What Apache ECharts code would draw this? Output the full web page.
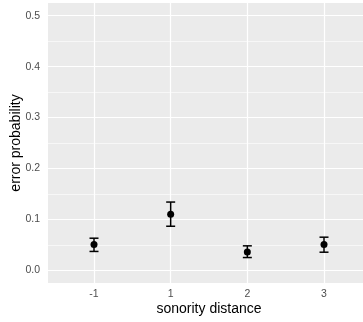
<!DOCTYPE html>
<html>
<head>
<meta charset="utf-8">
<script src="https://cdn.jsdelivr.net/npm/echarts@6/dist/echarts.min.js"></script>
<style>
  html, body { margin: 0; padding: 0; background: #fff; }
  #chart { width: 363px; height: 322px; }
</style>
</head>
<body>
<div id="chart"></div>
<script>
// sonority distance categories and their error probability estimates
const categories = ["-1", "1", "2", "3"];
const means = [0.0505, 0.110, 0.036, 0.0505];
const lower = [0.037, 0.0865, 0.025, 0.0355];
const upper = [0.063, 0.134, 0.048, 0.065];
const yTicks = [0, 0.1, 0.2, 0.3, 0.4, 0.5];
const yMinor = [0.05, 0.15, 0.25, 0.35, 0.45];

const positions = categories.map((_, i) => i);

const chart = echarts.init(document.getElementById("chart"), null, { renderer: "canvas" });

const gridLine = (axis, value, width) => ({
  [axis]: value,
  lineStyle: { color: "#ffffff", width: width, type: "solid" },
});

const option = {
  animation: false,
  backgroundColor: "#ffffff",
  textStyle: { fontFamily: "Liberation Sans, Arial, sans-serif" },
  grid: {
    show: true,
    backgroundColor: "#ebebeb",
    borderWidth: 0,
    left: 48,
    right: -7,
    top: 3,
    bottom: 39,
    containLabel: false,
    outerBoundsMode: "none",
  },
  xAxis: {
    type: "value",
    min: -0.6,
    max: 3.6,
    name: "sonority distance",
    nameLocation: "middle",
    nameGap: 19,
    nameMoveOverlap: false,
    nameTextStyle: { color: "#000000", fontSize: 14 },
    axisLine: { show: false },
    axisTick: {
      show: true,
      customValues: positions,
      length: 4,
      lineStyle: { color: "#333333", width: 1 },
    },
    axisLabel: {
      customValues: positions,
      color: "#4d4d4d",
      fontSize: 10.5,
      margin: 6,
      formatter: (v) => categories[Math.round(v)],
    },
    splitLine: { show: false },
  },
  yAxis: {
    type: "value",
    min: -0.025,
    max: 0.525,
    name: "error probability",
    nameLocation: "middle",
    nameGap: 25,
    nameMoveOverlap: false,
    nameRotate: 90,
    nameTextStyle: { color: "#000000", fontSize: 14 },
    axisLine: { show: false },
    axisTick: {
      show: true,
      customValues: yTicks,
      length: 4,
      lineStyle: { color: "#333333", width: 1 },
    },
    axisLabel: {
      customValues: yTicks,
      color: "#4d4d4d",
      fontSize: 10.5,
      margin: 8,
      formatter: (v) => v.toFixed(1),
    },
    splitLine: { show: false },
  },
  series: [
    {
      type: "line",
      data: [],
      silent: true,
      z: 0,
      markLine: {
        silent: true,
        symbol: ["none", "none"],
        label: { show: false },
        animation: false,
        data: [
          ...yMinor.map((v) => gridLine("yAxis", v, 0.6)),
          ...yTicks.map((v) => gridLine("yAxis", v, 1.2)),
          ...positions.map((v) => gridLine("xAxis", v, 1.2)),
        ],
      },
    },
    {
      type: "custom",
      silent: true,
      data: positions.map((p, i) => [p, lower[i], upper[i]]),
      renderItem: (params, api) => {
        const x = api.value(0);
        const lo = api.coord([x, api.value(1)]);
        const hi = api.coord([x, api.value(2)]);
        const half = 4.5;
        const style = { stroke: "#000000", lineWidth: 1.5 };
        return {
          type: "group",
          children: [
            { type: "line", shape: { x1: lo[0], y1: lo[1], x2: hi[0], y2: hi[1] }, style },
            { type: "line", shape: { x1: hi[0] - half, y1: hi[1], x2: hi[0] + half, y2: hi[1] }, style },
            { type: "line", shape: { x1: lo[0] - half, y1: lo[1], x2: lo[0] + half, y2: lo[1] }, style },
          ],
        };
      },
      z: 10,
    },
    {
      type: "scatter",
      data: positions.map((p, i) => [p, means[i]]),
      symbol: "circle",
      symbolSize: 7,
      itemStyle: { color: "#000000", opacity: 1 },
      silent: true,
      z: 11,
    },
  ],
};

chart.setOption(option);
</script>
</body>
</html>
